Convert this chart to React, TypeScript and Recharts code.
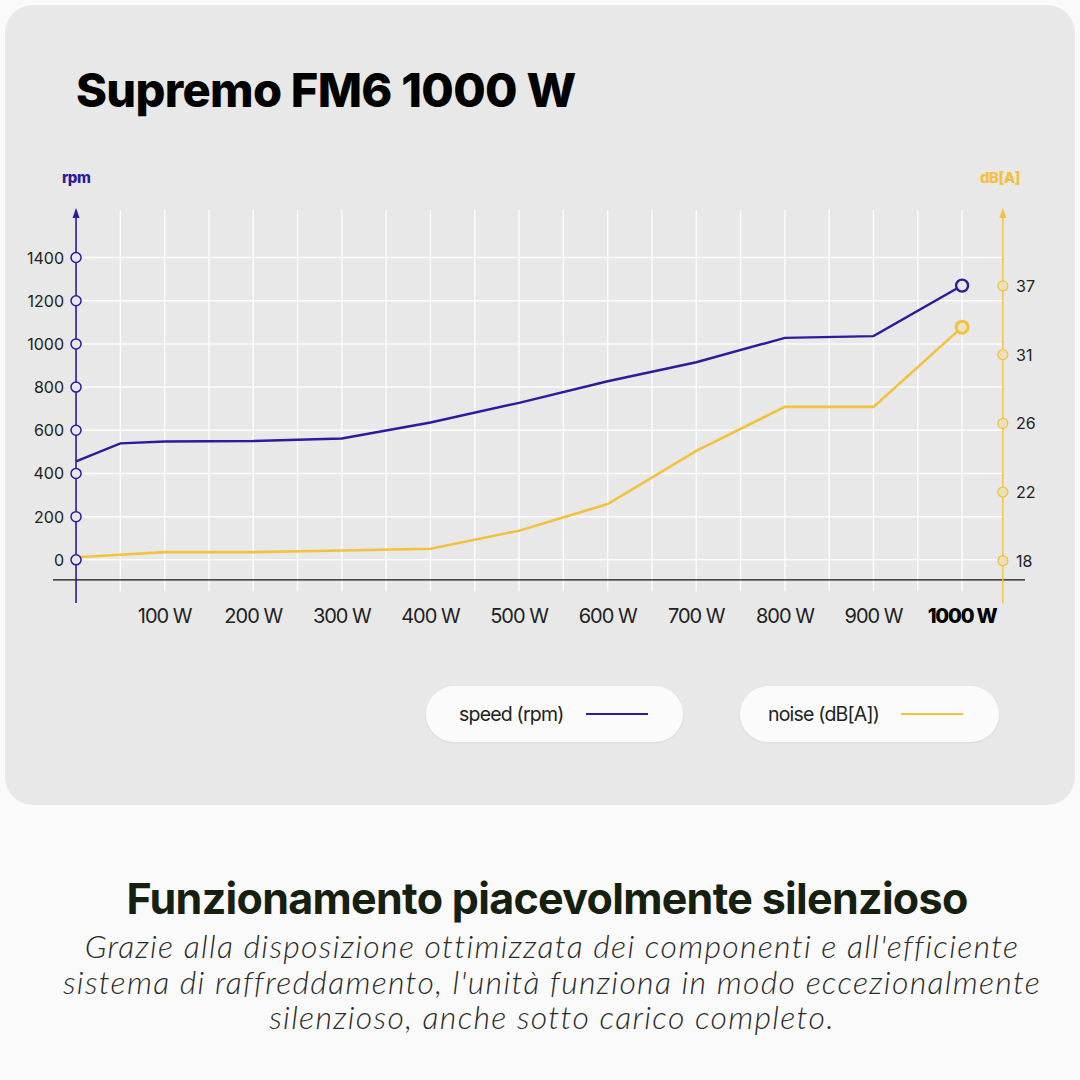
import { LineChart, Line, XAxis, YAxis, ReferenceLine, ReferenceDot } from "recharts";

const PURPLE = "#2d1b9b";
const YELLOW = "#f2c23e";
const GRID = "#fbfbfb";

// load in watts and the two measured curves
const watts = [0, 50, 100, 200, 300, 400, 500, 600, 700, 800, 900, 1000];
const speedRpm = [456, 539, 548, 550, 562, 636, 727, 827, 915, 1028, 1036, 1270];
const noiseDb = [18.2, 18.35, 18.5, 18.5, 18.6, 18.7, 19.75, 21.3, 24.4, 27.2, 27.2, 33.4];

const rpmTicks = [0, 200, 400, 600, 800, 1000, 1200, 1400];
const dbTicks = [18, 22, 26, 31, 37];
const wattTicks = [100, 200, 300, 400, 500, 600, 700, 800, 900, 1000];
const gridWatts = [50, 100, 150, 200, 250, 300, 350, 400, 450, 500, 550, 600, 650, 700, 750, 800, 850, 900, 950, 1000];

const series = [
  { key: "speed", name: "speed (rpm)", color: PURPLE },
  { key: "noise", name: "noise (dB[A])", color: YELLOW },
];

// the dB axis has evenly spaced ticks with uneven labels, so map dB onto tick index
function dbToAxis(db: number) {
  for (let i = 0; i < dbTicks.length - 1; i++) {
    if (db <= dbTicks[i + 1]) return i + (db - dbTicks[i]) / (dbTicks[i + 1] - dbTicks[i]);
  }
  const n = dbTicks.length;
  return n - 1 + (db - dbTicks[n - 1]) / (dbTicks[n - 1] - dbTicks[n - 2]);
}

const data = watts.map((w, i) => ({ watts: w, speed: speedRpm[i], noise: dbToAxis(noiseDb[i]) }));

const AXIS_RIGHT = 1046;
const tickFont = "Inter, 'Noto Sans', sans-serif";

function WattTick(props: any) {
  const v = props.payload.value;
  const last = v === 1000;
  return (
    <text x={props.x} y={props.y + 12} textAnchor="middle" fontFamily={tickFont} fontSize={20}
      fontWeight={last ? 800 : 400} letterSpacing={last ? -1.2 : -1} fill={last ? "#000" : "#222"}>
      {v} W
    </text>
  );
}

function RpmTick(props: any) {
  return (
    <text x={64} y={props.y + 6} textAnchor="end" fontFamily={tickFont} fontSize={16} fill="#222">
      {props.payload.value}
    </text>
  );
}

function DbTick(props: any) {
  return (
    <text x={1016} y={props.y + 6} textAnchor="start" fontFamily={tickFont} fontSize={16} fill="#222">
      {dbTicks[props.payload.value]}
    </text>
  );
}

function arrowLabel(color: string) {
  return (p: any) => {
    const x = p.viewBox.x;
    const y = p.viewBox.y;
    return <polygon points={`${x},${y - 2} ${x - 3.5},${y + 8} ${x + 3.5},${y + 8}`} fill={color} />;
  };
}

function endDot(color: string, fill: string, width: number) {
  return (p: any) =>
    p.index === watts.length - 1 ? (
      <circle key={p.index} cx={p.cx} cy={p.cy} r={6} fill={fill} stroke={color} strokeWidth={width} />
    ) : (
      <g key={p.index} />
    );
}

function LegendPill(props: { left: number; width: number; pad: number; name: string; color: string }) {
  return (
    <div style={{
      position: "absolute", left: props.left, top: 686, width: props.width, height: 56, borderRadius: 28,
      background: "#fbfbfb", boxShadow: "0 1px 3px rgba(0,0,0,0.06)", display: "flex", alignItems: "center",
      paddingLeft: props.pad, boxSizing: "border-box",
    }}>
      <span style={{ fontFamily: tickFont, fontSize: 19.5, letterSpacing: -0.8, color: "#222" }}>{props.name}</span>
      <span style={{ display: "inline-block", width: 62, height: 2.5, background: props.color, marginLeft: 22 }} />
    </div>
  );
}

export default function App() {
  return (
    <div style={{ position: "absolute", left: 0, top: 0, width: 1080, height: 1080, background: "#fafafa", overflow: "hidden" }}>
      <div style={{ position: "absolute", left: 5, top: 5, width: 1070, height: 800, borderRadius: 28, background: "#e8e8e8" }} />
      <div style={{
        position: "absolute", left: 76, top: 66, fontFamily: "Inter, sans-serif", fontWeight: 800, fontSize: 47,
        letterSpacing: -0.7, lineHeight: 1, color: "#000", whiteSpace: "nowrap",
      }}>
        Supremo FM6 1000 W
      </div>
      <div style={{ position: "absolute", left: 62, top: 168, fontFamily: tickFont, fontWeight: 800, fontSize: 15, color: PURPLE, letterSpacing: -0.5 }}>rpm</div>
      <div style={{ position: "absolute", left: 980, top: 168, fontFamily: tickFont, fontWeight: 800, fontSize: 15, color: YELLOW, letterSpacing: -0.5 }}>dB[A]</div>

      <div style={{ position: "absolute", left: 0, top: 0 }}>
        <LineChart width={1080} height={810} data={data} margin={{ top: 210, left: 23, right: 25, bottom: 177 }}>
          <XAxis dataKey="watts" type="number" domain={[-26, 1071]} ticks={wattTicks} axisLine={false}
            tickLine={false} tick={<WattTick />} height={30} interval={0} />
          <YAxis yAxisId="rpm" type="number" domain={[-200, 1620]} ticks={rpmTicks} axisLine={false}
            tickLine={false} tick={<RpmTick />} width={30} interval={0} />
          <YAxis yAxisId="db" orientation="right" type="number" domain={[-0.615, 5.105]} ticks={[0, 1, 2, 3, 4]}
            axisLine={false} tickLine={false} tick={<DbTick />} width={30} interval={0} />

          {gridWatts.map((w) => (
            <ReferenceLine key={"v" + w} yAxisId="rpm" segment={[{ x: w, y: -146 }, { x: w, y: 1620 }]}
              stroke={GRID} strokeWidth={1.5} />
          ))}
          {rpmTicks.map((t) => (
            <ReferenceLine key={"h" + t} yAxisId="rpm" segment={[{ x: 0, y: t }, { x: AXIS_RIGHT, y: t }]}
              stroke={GRID} strokeWidth={1.5} />
          ))}
          <ReferenceLine yAxisId="rpm" y={-93} stroke="#111" strokeWidth={1.2} />
          <ReferenceLine yAxisId="rpm" x={0} stroke={PURPLE} strokeWidth={1.6} label={arrowLabel(PURPLE)} />
          <ReferenceLine yAxisId="rpm" x={AXIS_RIGHT} stroke={YELLOW} strokeWidth={1.4} label={arrowLabel(YELLOW)} />
          {rpmTicks.map((t) => (
            <ReferenceDot key={"d" + t} yAxisId="rpm" x={0} y={t} r={5} fill="#e8e8e8" stroke={PURPLE} strokeWidth={1.5} />
          ))}
          {dbTicks.map((t, i) => (
            <ReferenceDot key={"e" + t} yAxisId="db" x={AXIS_RIGHT} y={i} r={5} fill="#ece0bc" stroke={YELLOW} strokeWidth={1.3} />
          ))}

          <Line yAxisId="db" dataKey="noise" name={series[1].name} type="linear" stroke={YELLOW} strokeWidth={2.6}
            dot={endDot(YELLOW, "#ece3c6", 3)} activeDot={false} isAnimationActive={false} />
          <Line yAxisId="rpm" dataKey="speed" name={series[0].name} type="linear" stroke={PURPLE} strokeWidth={2.4}
            dot={endDot(PURPLE, "#e8e8e8", 2.4)} activeDot={false} isAnimationActive={false} />
        </LineChart>
      </div>

      <LegendPill left={426} width={257} pad={33} name={series[0].name} color={series[0].color} />
      <LegendPill left={740} width={259} pad={28} name={series[1].name} color={series[1].color} />

      <div style={{
        position: "absolute", left: 14, top: 873, width: 1066, textAlign: "center", fontFamily: "Inter, sans-serif",
        fontWeight: 700, fontSize: 43, letterSpacing: -0.7, color: "#16200f", lineHeight: 1.2, whiteSpace: "nowrap",
      }}>
        Funzionamento piacevolmente silenzioso
      </div>
      <div style={{
        position: "absolute", left: 24, top: 928, width: 1056, textAlign: "center", fontFamily: "Lato, 'Open Sans', sans-serif",
        fontStyle: "italic", fontWeight: 300, fontSize: 32, lineHeight: "35.5px", color: "#2a2a2a", letterSpacing: 1.3,
        whiteSpace: "nowrap",
      }}>
        Grazie alla disposizione ottimizzata dei componenti e all'efficiente<br />
        sistema di raffreddamento, l'unità funziona in modo eccezionalmente<br />
        silenzioso, anche sotto carico completo.
      </div>
    </div>
  );
}
